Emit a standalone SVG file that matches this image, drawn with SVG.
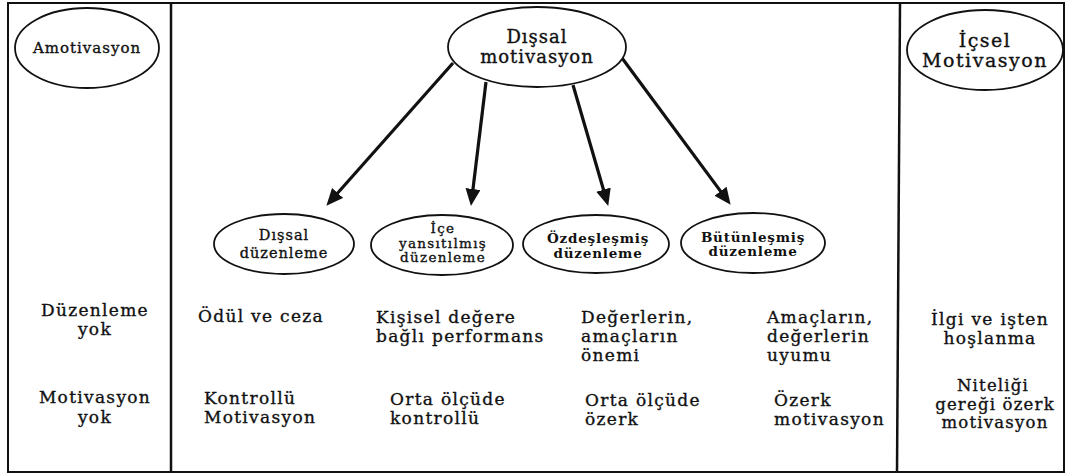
<svg xmlns="http://www.w3.org/2000/svg" width="1067" height="476" viewBox="0 0 1067 476">
<style>
  .frame { fill: none; stroke: #111; stroke-width: 2; }
  .div { stroke: #111; stroke-width: 2.5; }
  .node { fill: #fff; stroke: #111; stroke-width: 1.8; }
  .t { font-family: "DejaVu Serif", "Liberation Serif", serif; fill: #111; stroke: #111; stroke-width: 0.35px; }
  .big { font-size: 17px; letter-spacing: 1.3px; }
  .n14 { font-size: 14.5px; letter-spacing: 1px; }
  .n13 { font-size: 13.5px; letter-spacing: 0.8px; font-weight: bold; stroke-width: 0; }
  .mid { text-anchor: middle; }
  .arrow { stroke: #111; stroke-width: 3.2; fill: none; marker-end: url(#ah); }
</style>
<defs>
  <marker id="ah" markerUnits="userSpaceOnUse" markerWidth="18" markerHeight="16" refX="4" refY="7.5" orient="auto">
    <path d="M0,0 L17,7.5 L0,15 z" fill="#111"/>
  </marker>
</defs>
<rect width="1067" height="476" fill="#fff"/>
<rect class="frame" x="8" y="3" width="1056" height="469"/>
<line class="div" x1="171" y1="3" x2="171" y2="472"/>
<line class="div" x1="900" y1="3" x2="897" y2="472"/>

<g id="connectors">
  <line class="arrow" x1="453" y1="63" x2="335" y2="196"/>
  <line class="arrow" x1="486" y1="82" x2="472.5" y2="193"/>
  <line class="arrow" x1="573" y1="85" x2="604.6" y2="193.5"/>
  <line class="arrow" x1="622" y1="58" x2="722.9" y2="194.4"/>
</g>

<g id="amotivasyon">
  <ellipse class="node" cx="87" cy="48" rx="72" ry="40"/>
  <text class="t mid" style="font-size:15px;letter-spacing:1px" x="87" y="53">Amotivasyon</text>
</g>
<g id="dissal-motivasyon">
  <ellipse class="node" cx="537" cy="47" rx="89" ry="40"/>
  <text class="t mid" style="font-size:18px;letter-spacing:1px" x="537" y="43">Dışsal</text>
  <text class="t mid" style="font-size:18px;letter-spacing:1px" x="537" y="63">motivasyon</text>
</g>
<g id="icsel-motivasyon">
  <ellipse class="node" cx="985" cy="50" rx="78" ry="40"/>
  <text class="t mid" style="font-size:19px;letter-spacing:1.5px" x="985" y="47">İçsel</text>
  <text class="t mid" style="font-size:19px;letter-spacing:1.5px" x="985" y="67">Motivasyon</text>
</g>

<g id="dissal-duzenleme">
  <ellipse class="node" cx="284" cy="244" rx="70" ry="30"/>
  <text class="t n14 mid" x="284" y="240">Dışsal</text>
  <text class="t n14 mid" x="284" y="258">düzenleme</text>
</g>
<g id="ice-yansitilmis">
  <ellipse class="node" cx="442" cy="245" rx="71" ry="30"/>
  <text class="t mid" style="font-size:13.5px;letter-spacing:1.3px" x="443" y="233">İçe</text>
  <text class="t mid" style="font-size:13.5px;letter-spacing:1.3px" x="443" y="247.5">yansıtılmış</text>
  <text class="t mid" style="font-size:13.5px;letter-spacing:1.3px" x="443" y="262">düzenleme</text>
</g>
<g id="ozdeslesmis">
  <ellipse class="node" cx="596" cy="244" rx="73" ry="29"/>
  <text class="t n13 mid" x="598" y="243">Özdeşleşmiş</text>
  <text class="t n13 mid" x="598" y="258">düzenleme</text>
</g>
<g id="butunlesmis">
  <ellipse class="node" cx="753" cy="243" rx="72" ry="30"/>
  <text class="t n13 mid" x="753" y="242">Bütünleşmiş</text>
  <text class="t n13 mid" x="753" y="256">düzenleme</text>
</g>

<g id="row-labels">
  <text class="t big mid" x="95" y="316">Düzenleme</text>
  <text class="t big mid" x="95" y="335">yok</text>
  <text class="t big mid" x="95" y="403">Motivasyon</text>
  <text class="t big mid" x="95" y="423">yok</text>
</g>

<g id="col-dissal">
  <text class="t big" x="198" y="322">Ödül ve ceza</text>
  <text class="t big" x="204" y="404">Kontrollü</text>
  <text class="t big" x="204" y="423">Motivasyon</text>
</g>
<g id="col-ice">
  <text class="t big" x="376" y="323">Kişisel değere</text>
  <text class="t big" x="376" y="342">bağlı performans</text>
  <text class="t big" x="390" y="405">Orta ölçüde</text>
  <text class="t big" x="390" y="424">kontrollü</text>
</g>
<g id="col-ozdes">
  <text class="t big" x="581" y="323">Değerlerin,</text>
  <text class="t big" x="581" y="342">amaçların</text>
  <text class="t big" x="581" y="361">önemi</text>
  <text class="t big" x="585" y="406">Orta ölçüde</text>
  <text class="t big" x="585" y="425">özerk</text>
</g>
<g id="col-butun">
  <text class="t big" x="767" y="323">Amaçların,</text>
  <text class="t big" x="767" y="342">değerlerin</text>
  <text class="t big" x="767" y="361">uyumu</text>
  <text class="t big" x="774" y="406">Özerk</text>
  <text class="t big" x="774" y="425">motivasyon</text>
</g>
<g id="col-icsel">
  <text class="t mid" style="font-size:17px;letter-spacing:1.3px" x="990" y="325">İlgi ve işten</text>
  <text class="t mid" style="font-size:17px;letter-spacing:1.3px" x="990" y="344">hoşlanma</text>
  <text class="t mid" style="font-size:16.5px;letter-spacing:1.2px" x="993" y="391">Niteliği</text>
  <text class="t mid" style="font-size:16.5px;letter-spacing:1.2px" x="995" y="409.5">gereği özerk</text>
  <text class="t mid" style="font-size:16.5px;letter-spacing:1.2px" x="995" y="428">motivasyon</text>
</g>
</svg>
